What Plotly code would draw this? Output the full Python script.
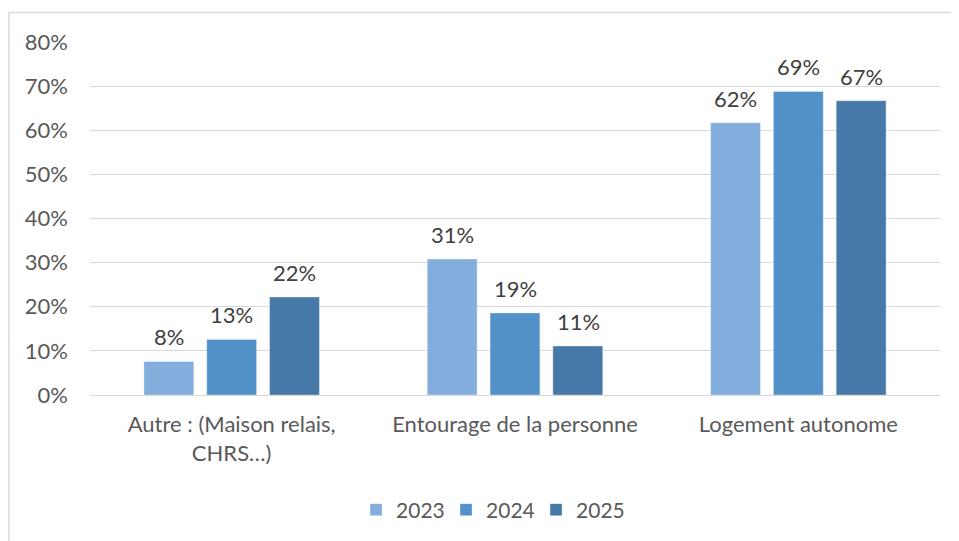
import plotly.graph_objects as go

categories = ["Autre : (Maison relais,<br>CHRS…)", "Entourage de la personne", "Logement autonome"]
years = ["2023", "2024", "2025"]
values_2023 = [0.076, 0.308, 0.617]
values_2024 = [0.126, 0.186, 0.688]
values_2025 = [0.222, 0.111, 0.667]
tick_vals = [0, 0.1, 0.2, 0.3, 0.4, 0.5, 0.6, 0.7, 0.8]
tick_text = ["0%", "10%", "20%", "30%", "40%", "50%", "60%", "70%", "80%"]

series = [values_2023, values_2024, values_2025]
colors = ["#83ADDC", "#5391C9", "#4678A8"]

FONT = "Lato, 'Open Sans', sans-serif"

fig = go.Figure()
for name, vals, col in zip(years, series, colors):
    fig.add_trace(go.Bar(
        x=categories, y=vals, name=name,
        marker=dict(color=col, line=dict(color="rgba(255,255,255,0.35)", width=1)),
        hoverinfo="skip",
    ))

# data labels
slot_px = 63
for i, vals in enumerate(series):
    for cat, v in zip(categories, vals):
        fig.add_annotation(
            x=cat, y=v, xref="x", yref="y",
            text=f"{v:.0%}", showarrow=False,
            xanchor="center", yanchor="bottom",
            xshift=(i - 1) * slot_px, yshift=9,
            font=dict(family=FONT, size=22, color="#404040"),
        )

# outer chart border (top and left)
fig.add_shape(type="line", xref="paper", yref="paper",
              x0=-0.0953, x1=1.04, y0=1.0833, y1=1.0833,
              line=dict(color="#D9D9D9", width=1.5))
fig.add_shape(type="line", xref="paper", yref="paper",
              x0=-0.0953, x1=-0.0953, y0=1.0833, y1=-0.45,
              line=dict(color="#D9D9D9", width=1.5))

fig.update_layout(
    width=951, height=533,
    margin=dict(l=82, r=19, t=34, b=145),
    paper_bgcolor="white", plot_bgcolor="white",
    barmode="group", bargap=0.335, bargroupgap=0.206,
    font=dict(family=FONT, size=22, color="#595959"),
    showlegend=True,
    legend=dict(orientation="h", x=0.313, xanchor="left", y=-0.322, yanchor="middle",
                font=dict(family=FONT, size=21, color="#595959"),
                itemwidth=30, traceorder="normal",
                entrywidth=45, entrywidthmode="pixels"),
    xaxis=dict(showgrid=False, showline=False, ticks="", tickfont=dict(size=22, color="#595959"),
               ticklabelstandoff=14, fixedrange=True),
    yaxis=dict(range=[0, 0.8], tickvals=tick_vals, ticktext=tick_text,
               showgrid=True, gridcolor="#D9D9D9", gridwidth=1.2,
               zeroline=True, zerolinecolor="#D9D9D9", zerolinewidth=1.2,
               showline=False, ticks="", ticklabelstandoff=21,
               tickfont=dict(size=22, color="#595959"), fixedrange=True),
)

fig.write_html("out.html")
